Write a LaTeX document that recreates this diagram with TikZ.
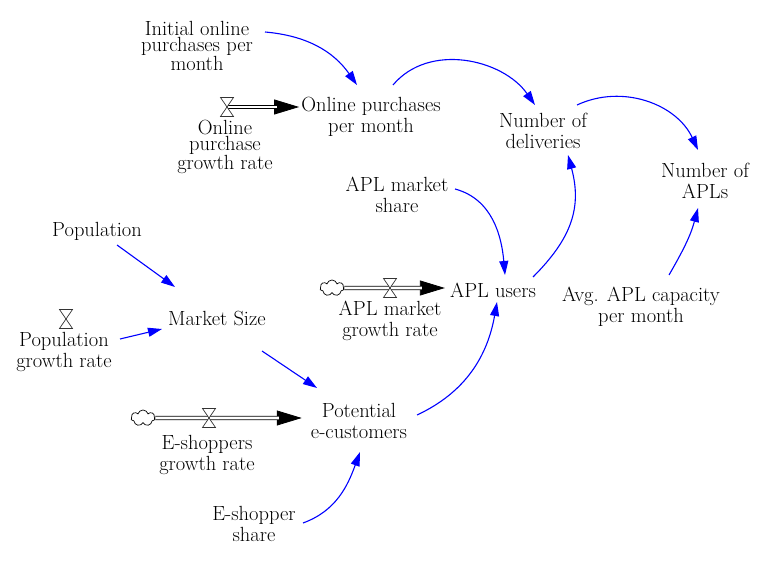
\documentclass[tikz,border=0pt]{standalone}
\usepackage{fontspec}
\setmainfont{Latin Modern Roman}
\usetikzlibrary{arrows.meta,shapes.symbols}
\tikzset{
  var/.style={align=center, inner sep=0pt, font=\fontsize{20.5}{21}\selectfont},
  squeezed/.style={font=\fontsize{20.5}{15.5}\selectfont},
  link/.style={draw=blue, line width=1.1pt, -{Triangle[length=14pt,width=9pt]}},
  pipe/.style={draw=black, line width=0.8pt, double=white, double distance=2.6pt},
  flowhead/.style={line width=0.8pt, -{Triangle[length=25pt,width=15pt]}},
  source/.style={cloud, cloud puffs=7, draw, fill=white, line width=0.7pt,
    minimum width=24pt, minimum height=16pt, inner sep=0pt},
  valve/.pic={\draw[fill=white, line width=0.7pt, draw=black!80]
    (-6.5,9.5) -- (6.5,9.5) -- (-6.5,-9.5) -- (6.5,-9.5) -- cycle;}
}
\begin{document}
\begin{tikzpicture}[x=1pt, y=1pt]
    \useasboundingbox[fill=white] (0,0) rectangle (771,-569);
    % variables
    \node[var, squeezed] (init) at (197,-46) {Initial online\\purchases per\\month};
    \node[var] (opm) at (371,-117) {Online purchases\\per month};
    \node[var, squeezed] (opgr) at (225,-147) {Online\\purchase\\growth rate};
    \node[var] (nod) at (543,-131) {Number of\\deliveries};
    \node[var] (napl) at (705,-181) {Number of\\APLs};
    \node[var] (aplms) at (397,-195) {APL market\\share};
    \node[var] (aplu) at (493,-290) {APL users};
    \node[var] (aplgr) at (390,-321) {APL market\\growth rate};
    \node[var] (avg) at (641,-307) {Avg. APL capacity\\per month};
    \node[var] (pop) at (97,-231) {Population};
    \node[var] (popgr) at (64,-352) {Population\\growth rate};
    \node[var] (ms) at (217,-318) {Market Size};
    \node[var] (pec) at (359,-421) {Potential\\e-customers};
    \node[var] (esgr) at (207,-455) {E-shoppers\\growth rate};
    \node[var] (esh) at (254,-524) {E-shopper\\share};

    % flows
    \coordinate (v1) at (227,-107);
    \coordinate (v2) at (390,-288);
    \coordinate (v3) at (209,-418);
    \coordinate (v4) at (66,-319);
    \node[source] (c2) at (332,-288) {};
    \node[source] (c3) at (143,-418) {};
    \draw[flowhead, shorten >=2pt] (v1) -- (opm.west |- v1);
    \draw[pipe, shorten >=24pt] (v1) -- (opm.west |- v1);
    \draw[flowhead, shorten >=5pt] (c2) -- (aplu.west |- c2);
    \draw[pipe, shorten >=28pt] (c2) -- (aplu.west |- c2);
    \draw[flowhead, shorten >=9pt] (c3) -- (pec.west |- c3);
    \draw[pipe, shorten >=32pt] (c3) -- (pec.west |- c3);
    \pic at (v1) {valve};
    \pic at (v2) {valve};
    \pic at (v3) {valve};
    \pic at (v4) {valve};

    % links
    \draw[link] ([shift={(68,14)}]init.center) to[out=-5,in=125] ([shift={(-14,32)}]opm.center);
    \draw[link] ([shift={(22,32)}]opm.center) to[out=50,in=125] ([shift={(-8,26)}]nod.center);
    \draw[link] ([shift={(34,26)}]nod.center) to[out=25,in=115] ([shift={(-7,31)}]napl.center);
    \draw[link] ([shift={(58,6)}]aplms.center) to[out=-15,in=95] ([shift={(12,15)}]aplu.center);
    \draw[link] ([shift={(40,13)}]aplu.center) to[out=45,in=-75,looseness=1.1] ([shift={(25,-24)}]nod.center);
    \draw[link] ([shift={(28,32)}]avg.center) to[out=60,in=-105] ([shift={(-7,-27)}]napl.center);
    \draw[link] ([shift={(20,-14)}]pop.center) -- ([shift={(-42,31)}]ms.center);
    \draw[link] ([shift={(56,13)}]popgr.center) -- ([shift={(-55,-11)}]ms.center);
    \draw[link] ([shift={(45,-33)}]ms.center) -- ([shift={(-42,33)}]pec.center);
    \draw[link] ([shift={(58,6)}]pec.center) to[out=25,in=-100] ([shift={(4,-12)}]aplu.center);
    \draw[link] ([shift={(49,1)}]esh.center) to[out=20,in=-110] ([shift={(1,-31)}]pec.center);
\end{tikzpicture}
\end{document}
